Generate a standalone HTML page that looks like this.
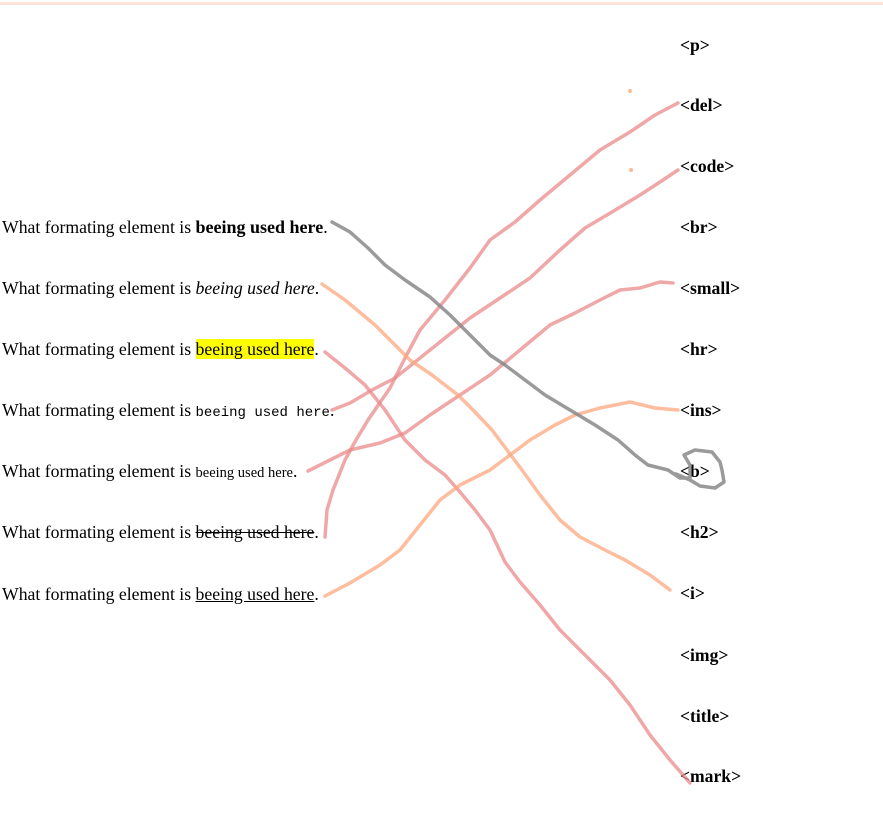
<!DOCTYPE html>
<html><head><meta charset="utf-8"><style>
html,body{margin:0;padding:0;background:#fff;width:883px;height:840px;overflow:hidden;position:relative}
.top{position:absolute;left:0;top:2px;width:883px;height:3px;background:#fbe3d8}
.t{position:absolute;left:2px;font:17.7px "Liberation Serif",serif;color:#000;white-space:nowrap;line-height:20px}
.t b{font-size:18px}
.r{position:absolute;left:680px;font:bold 17.6px "Liberation Serif",serif;color:#000;line-height:20px}
code{font-family:"Liberation Mono",monospace;font-size:14px}
mark{background:#ff0;color:#000}
svg{position:absolute;left:0;top:0}
</style></head><body>
<div class="top"></div>
<div class="t" style="top:217px">What formating element is <b>beeing used here</b>.</div>
<div class="t" style="top:278px">What formating element is <i>beeing used here</i>.</div>
<div class="t" style="top:339px">What formating element is <mark>beeing used here</mark>.</div>
<div class="t" style="top:400px">What formating element is <code>beeing used here</code>.</div>
<div class="t" style="top:461px">What formating element is <small style="font-size:14.5px">beeing used here</small>.</div>
<div class="t" style="top:522px">What formating element is <del>beeing used here</del>.</div>
<div class="t" style="top:584px">What formating element is <u>beeing used here</u>.</div>

<div class="r" style="top:35px">&lt;p&gt;</div>
<div class="r" style="top:95px">&lt;del&gt;</div>
<div class="r" style="top:156px">&lt;code&gt;</div>
<div class="r" style="top:217px">&lt;br&gt;</div>
<div class="r" style="top:278px">&lt;small&gt;</div>
<div class="r" style="top:339px">&lt;hr&gt;</div>
<div class="r" style="top:400px">&lt;ins&gt;</div>
<div class="r" style="top:461px">&lt;b&gt;</div>
<div class="r" style="top:522px">&lt;h2&gt;</div>
<div class="r" style="top:583px">&lt;i&gt;</div>
<div class="r" style="top:645px">&lt;img&gt;</div>
<div class="r" style="top:706px">&lt;title&gt;</div>
<div class="r" style="top:766px">&lt;mark&gt;</div>

<svg width="883" height="840" fill="none" stroke-linecap="round" stroke-linejoin="round" stroke-width="3.5">
<g stroke="#e98a8a" stroke-opacity="0.75">
<polyline points="325,537 327,510 333,490 345,460 356,440 368,420 390,388 405,358 420,330 445,300 470,268 490,240 515,222 540,200 570,175 600,150 630,132 655,115 678,103"/>
<polyline points="332,410 350,403 372,390 395,378 420,358 445,338 470,318 500,298 530,278 560,250 585,228 612,212 640,195 660,182 678,170"/>
<polyline points="308,471 330,460 350,450 380,443 405,433 430,415 460,395 490,375 520,350 550,325 575,313 600,300 620,290 640,288 660,282 673,283"/>
<polyline points="325,352 345,368 365,385 385,410 405,440 425,460 445,475 460,492 475,510 490,530 505,562 520,582 540,605 560,630 585,655 610,680 630,705 650,735 670,760 690,783"/>
</g>
<g stroke="#fca77d" stroke-opacity="0.75">
<polyline points="322,284 345,300 375,325 395,345 410,360 432,375 458,395 475,412 492,430 507,450 522,470 540,495 560,520 580,537 605,550 625,560 650,575 670,590"/>
<polyline points="325,596 350,583 380,565 400,550 420,525 440,500 460,485 490,470 510,455 530,440 555,425 575,415 600,408 630,402 655,408 678,410"/>
</g>
<g stroke="#888" stroke-opacity="0.85">
<polyline points="332,222 350,232 368,248 385,265 405,280 430,297 450,315 470,335 490,355 505,365 525,380 545,395 570,410 595,425 618,440 635,455 648,465 668,470 680,478 690,478 690,465 684,455 695,450 712,452 720,462 722,470 724,482 715,488 700,486 690,480 676,474"/>
</g>
<circle cx="630" cy="91" r="2" fill="#fca77d" fill-opacity="0.8"/>
<circle cx="631" cy="170" r="2" fill="#fca77d" fill-opacity="0.8"/>
</svg>
</body></html>
